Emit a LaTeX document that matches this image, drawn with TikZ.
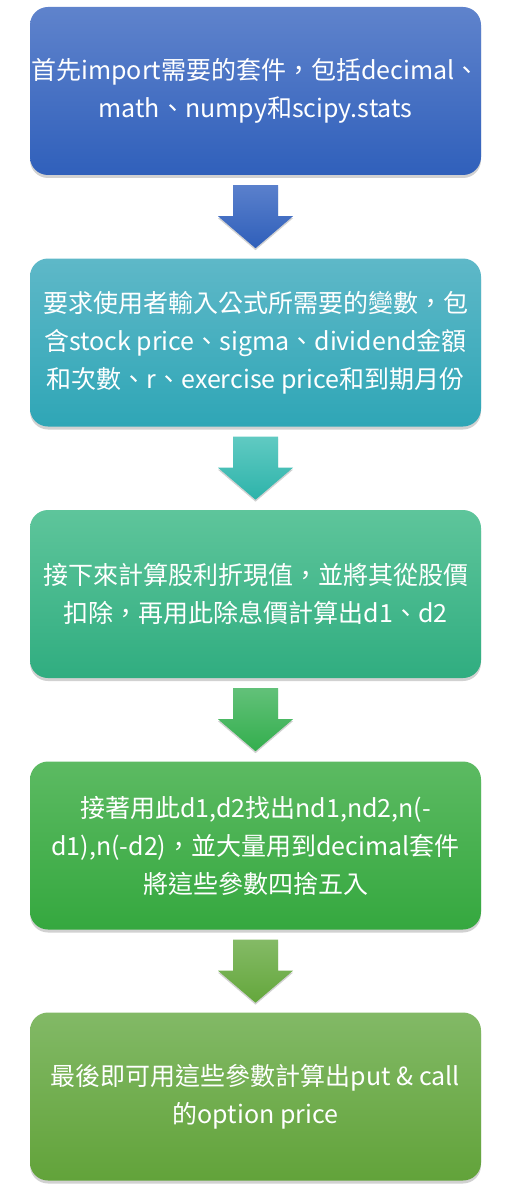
\documentclass[tikz,border=0pt]{standalone}
\usepackage{fontspec}
\newfontfamily\cjk{Noto Sans CJK TC}
\usetikzlibrary{calc,shadows}
\definecolor{bAt}{HTML}{5F83CC}\definecolor{bAb}{HTML}{3060BB}
\definecolor{aAt}{HTML}{5A80CC}\definecolor{aAb}{HTML}{2F5FBA}
\definecolor{bBt}{HTML}{5EB8C8}\definecolor{bBb}{HTML}{2FA6B6}
\definecolor{aBt}{HTML}{60CAC2}\definecolor{aBb}{HTML}{2DB3AA}
\definecolor{bCt}{HTML}{5EC59B}\definecolor{bCb}{HTML}{30AD80}
\definecolor{aCt}{HTML}{62C179}\definecolor{aCb}{HTML}{33AE4D}
\definecolor{bDt}{HTML}{5CBA62}\definecolor{bDb}{HTML}{35A83F}
\definecolor{aDt}{HTML}{84BA66}\definecolor{aDb}{HTML}{64A73C}
\definecolor{bEt}{HTML}{82B966}\definecolor{bEb}{HTML}{62A33A}
\tikzset{
  stepbox/.style={rectangle, rounded corners=18pt, minimum width=451pt, minimum height=168pt,
    inner sep=0pt, align=center, text=white, font=\cjk\fontsize{25}{38}\selectfont,
    drop shadow={shadow xshift=0pt, shadow yshift=-3pt, opacity=0.3, fill=black!60}},
  blockarrow/.style={drop shadow={shadow xshift=0pt, shadow yshift=-2pt, opacity=0.3, fill=black!60}}
}
\newcommand{\downarrowblock}[3]{%
  \path[blockarrow, top color=#2, bottom color=#3]
    ($(#1.south)+(-22.5,10)$) -- ++(45,0) -- ++(0,31) -- ++(15,0) -- ++(-37.5,32)
    -- ++(-37.5,-32) -- ++(15,0) -- cycle;}
\begin{document}
\begin{tikzpicture}[x=1pt,y=-1pt]
\useasboundingbox (0,0) rectangle (510,1193);
\node[stepbox, top color=bAt, bottom color=bAb] (b1) at (255.5,91)
  {首先import需要的套件，包括decimal、\\math、numpy和scipy.stats};
\node[stepbox, top color=bBt, bottom color=bBb] (b2) at (255.5,342.5)
  {要求使用者輸入公式所需要的變數，包\\含stock price、sigma、dividend金額\\和次數、r、exercise price和到期月份};
\node[stepbox, top color=bCt, bottom color=bCb] (b3) at (255.5,594)
  {接下來計算股利折現值，並將其從股價\\扣除，再用此除息價計算出d1、d2};
\node[stepbox, top color=bDt, bottom color=bDb] (b4) at (255.5,845.5)
  {接著用此d1,d2找出nd1,nd2,n(-\\d1),n(-d2)，並大量用到decimal套件\\將這些參數四捨五入};
\node[stepbox, top color=bEt, bottom color=bEb] (b5) at (255.5,1096.5)
  {最後即可用這些參數計算出put \& call\\的option price};
\downarrowblock{b1}{aAt}{aAb}
\downarrowblock{b2}{aBt}{aBb}
\downarrowblock{b3}{aCt}{aCb}
\downarrowblock{b4}{aDt}{aDb}
\end{tikzpicture}
\end{document}
